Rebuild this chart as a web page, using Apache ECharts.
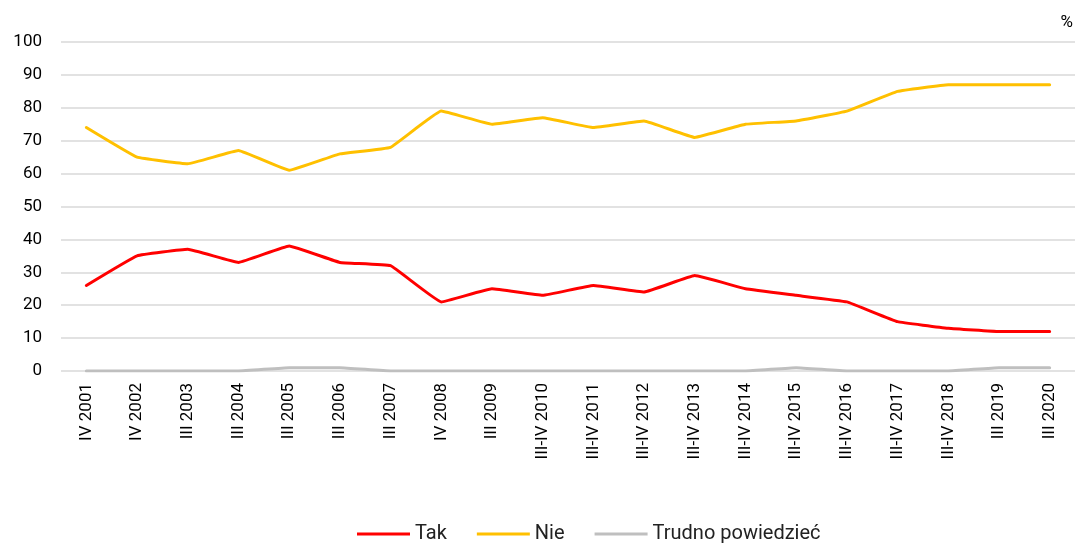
<!DOCTYPE html>
<html>
<head>
<meta charset="utf-8">
<script src="https://cdn.jsdelivr.net/npm/echarts@6/dist/echarts.min.js"></script>
<style>
  html, body { margin: 0; padding: 0; background: #fff; }
  #chart { width: 1075px; height: 545px; }
</style>
</head>
<body>
<div id="chart"></div>
<script>
const categories = ["IV 2001", "IV 2002", "III 2003", "III 2004", "III 2005", "III 2006", "III 2007",
  "IV 2008", "III 2009", "III-IV 2010", "III-IV 2011", "III-IV 2012", "III-IV 2013", "III-IV 2014",
  "III-IV 2015", "III-IV 2016", "III-IV 2017", "III-IV 2018", "III 2019", "III 2020"];
const tak = [26, 35, 37, 33, 38, 33, 32, 21, 25, 23, 26, 24, 29, 25, 23, 21, 15, 13, 12, 12];
const nie = [74, 65, 63, 67, 61, 66, 68, 79, 75, 77, 74, 76, 71, 75, 76, 79, 85, 87, 87, 87];
const trudno = [0, 0, 0, 0, 1, 1, 0, 0, 0, 0, 0, 0, 0, 0, 1, 0, 0, 0, 1, 1];

const chart = echarts.init(document.getElementById("chart"));

function lineSeries(name, data, color) {
  return {
    name: name,
    type: "line",
    data: data,
    smooth: 0.08,
    symbol: "none",
    lineStyle: { color: color, width: 3, join: "round", cap: "round" },
    itemStyle: { color: color }
  };
}

chart.setOption({
  animation: false,
  textStyle: { fontFamily: "Roboto" },
  grid: { left: 61, right: -11, top: 42, height: 329 },
  graphic: [{
    type: "text", right: 2, top: 14,
    style: { text: "%", font: "17px Roboto", fill: "#000" }
  }],
  legend: {
    bottom: -4,
    left: 352,
    icon: "rect",
    itemWidth: 53,
    itemHeight: 3,
    itemGap: 30,
    textStyle: { fontSize: 20, color: "#222", fontFamily: "Roboto" },
    data: ["Tak", "Nie", "Trudno powiedzieć"]
  },
  xAxis: {
    type: "category",
    data: categories,
    boundaryGap: true,
    axisLine: { show: false },
    axisTick: { show: false },
    axisLabel: { rotate: 90, interval: 0, fontSize: 17, color: "#000", margin: 12 }
  },
  yAxis: {
    type: "value",
    min: 0, max: 100, interval: 10,
    axisLabel: { fontSize: 17, color: "#000", margin: 19 },
    splitLine: { lineStyle: { color: "#d9d9d9", width: 1.5 } }
  },
  series: [
    lineSeries("Tak", tak, "#ff0000"),
    lineSeries("Nie", nie, "#ffc000"),
    lineSeries("Trudno powiedzieć", trudno, "#bfbfbf")
  ]
});
</script>
</body>
</html>
